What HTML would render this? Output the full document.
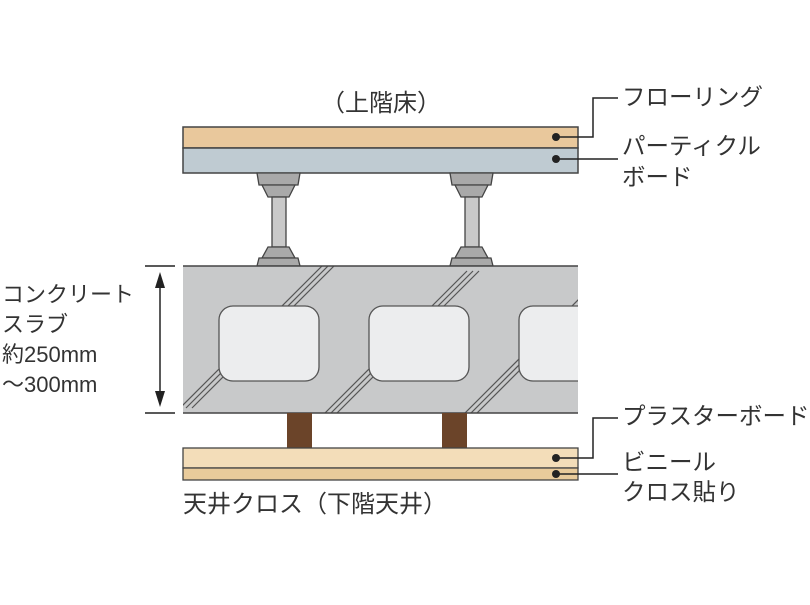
<!DOCTYPE html>
<html><head><meta charset="utf-8"><style>
body{margin:0;background:#fff}
svg text{font-family:"Liberation Sans","Noto Sans CJK JP",sans-serif;fill:#333;font-size:22px}
svg text.r{font-size:23.5px}
svg text.b{font-size:24px}
</style></head><body>
<svg width="810" height="600" viewBox="0 0 810 600" xmlns="http://www.w3.org/2000/svg">
<defs><clipPath id="slab"><rect x="183" y="266" width="395" height="147"/></clipPath></defs>
<rect x="183" y="127" width="395" height="21" fill="#e9c89c" stroke="#444" stroke-width="1.5"/>
<rect x="183" y="148" width="395" height="25" fill="#bfcbd2" stroke="#444" stroke-width="1.5"/>
<g stroke="#444" stroke-width="1.3">
<g id="p1">
<path d="M257 173 H300 L298 185 H259 Z" fill="#a9a9a9"/>
<path d="M262 185 H295 L289 197 H268 Z" fill="#a9a9a9"/>
<rect x="272" y="197" width="14" height="50" fill="#c9c9c9"/>
<path d="M268 247 H289 L295 258 H262 Z" fill="#a9a9a9"/>
<path d="M259 258 H298 L300 266 H257 Z" fill="#a9a9a9"/>
</g>
<use href="#p1" transform="translate(193,0)"/>
</g>
<rect x="183" y="266" width="395" height="147" fill="#c8c9ca"/>
<g clip-path="url(#slab)" stroke="#555" stroke-width="1.2" fill="none">
<g id="h"><line x1="180" y1="408" x2="322" y2="266"/><line x1="186" y1="408" x2="328" y2="266"/><line x1="192" y1="408" x2="334" y2="266"/></g>
<use href="#h" transform="translate(145,5)"/>
<use href="#h" transform="translate(285,5)"/>
</g>
<g fill="#ecedee" stroke="#555" stroke-width="1.3">
<rect x="219" y="306" width="100" height="75" rx="14"/>
<rect x="369" y="306" width="100" height="75" rx="14"/>
<rect x="519" y="306" width="80" height="75" rx="14"/>
</g>
<rect x="578" y="300" width="30" height="90" fill="#fff"/>
<line x1="183" y1="266" x2="578" y2="266" stroke="#444" stroke-width="1.5"/>
<line x1="183" y1="413" x2="578" y2="413" stroke="#444" stroke-width="1.5"/>
<rect x="287" y="413" width="25" height="35" fill="#6b4429"/>
<rect x="442" y="413" width="25" height="35" fill="#6b4429"/>
<rect x="183" y="448" width="395" height="20" fill="#f3ddb9" stroke="#444" stroke-width="1.3"/>
<rect x="183" y="468" width="395" height="12" fill="#e9cb9b" stroke="#444" stroke-width="1.3"/>
<g stroke="#222" stroke-width="1.5" fill="none">
<polyline points="556,137 593,137 593,98 618,98"/>
<line x1="556" y1="159" x2="618" y2="159"/>
<polyline points="556,458 593,458 593,418 618,418"/>
<line x1="556" y1="474" x2="618" y2="474"/>
</g>
<g fill="#222"><circle cx="556" cy="137" r="4"/><circle cx="556" cy="159" r="4"/><circle cx="556" cy="458" r="4"/><circle cx="556" cy="474" r="4"/></g>
<g stroke="#222" stroke-width="1.5">
<line x1="145" y1="266" x2="175" y2="266"/><line x1="145" y1="413" x2="175" y2="413"/>
<line x1="160" y1="282" x2="160" y2="398"/>
</g>
<path d="M160 272 L155 288 H165 Z M160 407 L155 391 H165 Z" fill="#222"/>
<text class="b" x="321" y="111">（上階床）</text>
<text class="r" x="622" y="105">フローリング</text>
<text class="r" x="622" y="154">パーティクル</text>
<text class="r" x="622" y="185">ボード</text>
<text class="r" x="622" y="424">プラスターボード</text>
<text class="r" x="622" y="470">ビニール</text>
<text class="r" x="622" y="500">クロス貼り</text>
<text class="b" x="183" y="512">天井クロス（下階天井）</text>
<text x="2" y="302">コンクリート</text>
<text x="2" y="332">スラブ</text>
<text x="2" y="362">約250mm</text>
<text x="2" y="392">～300mm</text>
</svg>
</body></html>
